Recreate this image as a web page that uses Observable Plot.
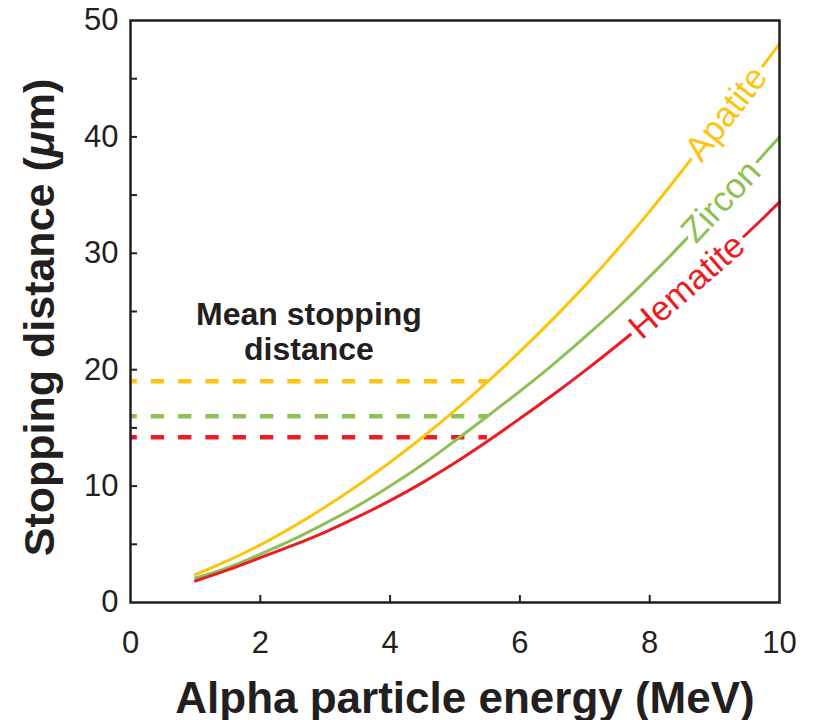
<!DOCTYPE html>
<html><head><meta charset="utf-8">
<script src="https://cdn.jsdelivr.net/npm/d3@7"></script>
<script src="https://cdn.jsdelivr.net/npm/@observablehq/plot@0.6"></script>
<style>body{margin:0;background:#fff} #chart{width:813px;height:720px}</style>
</head><body><div id="chart"></div>
<script>
// ---- data ----
const energy   = [1, 1.5, 2, 2.5, 3, 3.5, 4, 4.5, 5, 5.5, 6, 6.5, 7, 7.5, 8, 8.5, 9, 9.5, 10];
const apatite  = [2.4, 3.6, 4.95, 6.5, 8.2, 10.05, 12.05, 14.2, 16.5, 18.95, 21.55, 24.3, 27.2, 30.3, 33.6, 37.1, 40.7, 44.3, 48.0];
const zircon   = [2.1, 3.0, 4.15, 5.4, 6.8, 8.3, 10.0, 11.85, 13.9, 16.0, 18.15, 20.4, 22.8, 25.3, 28.0, 30.85, 33.85, 36.9, 40.0];
const hematite = [1.85, 2.8, 3.85, 4.9, 6.05, 7.35, 8.75, 10.3, 12.0, 13.85, 15.8, 17.8, 19.9, 22.1, 24.4, 26.8, 29.2, 31.7, 34.4];
const minerals = ["Apatite", "Zircon", "Hematite"];
const meanStopping = [19.0, 16.0, 14.2];
const meanEnergyMax = 5.5;
const xTicks = [0, 2, 4, 6, 8, 10];
const yTicks = [0, 10, 20, 30, 40, 50];
const yMinorTicks = [5, 15, 25, 35, 45];
const xTitle = "Alpha particle energy (MeV)";
const yTitle = "Stopping distance (μm)";
const meanLabel = "Mean stopping\ndistance";

// ---- styling ----
const colors = ["#FDC40F", "#8DC153", "#EC1C24"];
const ink = "#231f20";
const W = 813, H = 720, mL = 130, mR = 34, mT = 20, mB = 118;
const frameW = W - mL - mR, frameH = H - mT - mB;
const labelEnergy = [9.18, 9.1, 8.575];
const labelAngle = [-52, -47, -41];

const series = [apatite, zircon, hematite];
const rows = minerals.flatMap((m, i) => energy.map((e, j) => ({mineral: m, energy: e, distance: series[i][j]})));
const meanRows = minerals.map((m, i) => ({mineral: m, distance: meanStopping[i]}));
function interp(vals, e) {
  const j = Math.max(0, Math.min(energy.length - 2, d3.bisectRight(energy, e) - 1));
  const t = (e - energy[j]) / (energy[j + 1] - energy[j]);
  return vals[j] + t * (vals[j + 1] - vals[j]);
}
const labelRows = minerals.map((m, i) => ({mineral: m, energy: labelEnergy[i], distance: interp(series[i], labelEnergy[i]), angle: labelAngle[i]}));

const chart = Plot.plot({
  width: W, height: H,
  marginLeft: mL, marginRight: mR, marginTop: mT, marginBottom: mB,
  style: {fontFamily: "'Liberation Sans', Arial, Helvetica, sans-serif", color: ink, background: "#fff"},
  x: {domain: [0, 10], axis: null},
  y: {domain: [0, 50], axis: null},
  color: {domain: minerals, range: colors},
  marks: [
    Plot.ruleY(meanRows, {y: "distance", x1: 0, x2: meanEnergyMax, stroke: "mineral", strokeWidth: 4.5, strokeDasharray: "13.3,14", strokeDashoffset: 6.5}),
    Plot.line(rows, {x: "energy", y: "distance", z: "mineral", stroke: "mineral", strokeWidth: 3, curve: "monotone-x"}),
    Plot.text(labelRows, {x: "energy", y: "distance", text: "mineral", fill: "mineral", rotate: "angle", stroke: "white", strokeWidth: 12, fontSize: 35, lineAnchor: "middle", textAnchor: "middle"}),
    Plot.tickX(xTicks.slice(1, -1), {x: d => d, insetTop: frameH - 7, stroke: ink, strokeWidth: 2}),
    Plot.tickY(yTicks.slice(1, -1).concat(yMinorTicks), {y: d => d, insetRight: frameW - 7, stroke: ink, strokeWidth: 2}),
    Plot.frame({stroke: ink, strokeWidth: 2.5}),
    Plot.axisX(xTicks, {tickSize: 0, tickPadding: 28, fontSize: 31, fill: ink, label: null}),
    Plot.axisY(yTicks, {tickSize: 0, tickPadding: 12, fontSize: 31, fill: ink, label: null}),
    Plot.text([xTitle], {text: d => d, frameAnchor: "bottom", dx: 10, dy: 110, lineAnchor: "bottom", textAnchor: "middle", fontSize: 44, fontWeight: "bold", fill: ink}),
    Plot.text([yTitle], {text: d => d, frameAnchor: "left", rotate: -90, dx: -77, dy: 6, lineAnchor: "bottom", textAnchor: "middle", fontSize: 43, fontWeight: "bold", fill: ink}),
    Plot.text([meanLabel], {text: d => d, x: meanEnergyMax / 2, y: d3.max(meanStopping), dy: -21, lineAnchor: "bottom", textAnchor: "middle", lineHeight: 1.12, fontSize: 32, fontWeight: "bold", fill: ink})
  ]
});
document.getElementById("chart").appendChild(chart);

// italic μ in the y-axis title
const [pre, post] = yTitle.split("μ");
d3.select(chart).selectAll("text").filter(function () { return this.textContent === yTitle; }).each(function () {
  const t = d3.select(this);
  t.text(null);
  t.append("tspan").text(pre);
  t.append("tspan").attr("font-style", "italic").text("μ");
  t.append("tspan").text(post);
});
</script>
</body></html>
